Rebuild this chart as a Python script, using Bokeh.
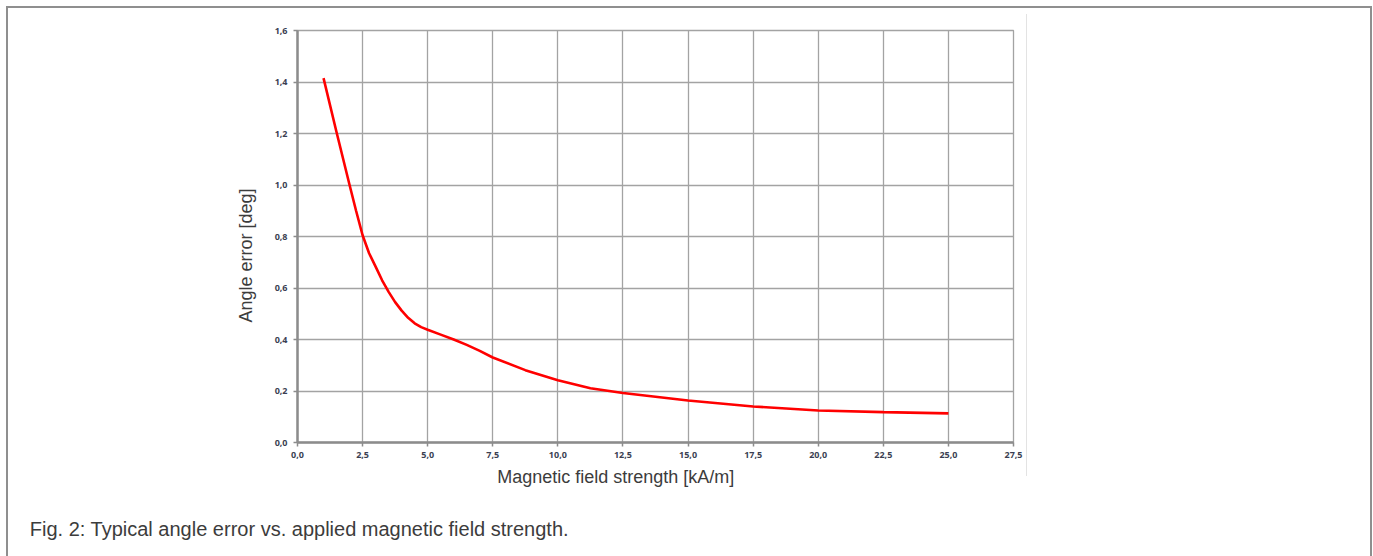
from bokeh.plotting import figure
from bokeh.layouts import column
from bokeh.models import Range1d, FixedTicker, Title
from bokeh.embed import file_html
from bokeh.resources import INLINE

# Data
field_kA_m = [1.0, 1.5, 2.0, 2.25, 2.5, 2.75, 3.0, 3.25, 3.5, 3.75, 4.0, 4.25, 4.5, 4.75, 5.0,
              5.5, 6.0, 6.5, 7.0, 7.5, 8.75, 10.0, 11.25, 12.5, 15.0, 17.5, 20.0, 22.5, 25.0]
angle_err_deg = [1.415, 1.205, 1.0, 0.90, 0.805, 0.735, 0.683, 0.63, 0.585, 0.545, 0.512, 0.484, 0.463, 0.448, 0.438,
                 0.419, 0.400, 0.379, 0.356, 0.330, 0.281, 0.242, 0.211, 0.192, 0.163, 0.140, 0.124, 0.118, 0.113]

x_ticks = [0.0, 2.5, 5.0, 7.5, 10.0, 12.5, 15.0, 17.5, 20.0, 22.5, 25.0, 27.5]
x_tick_labels = ["0,0", "2,5", "5,0", "7,5", "10,0", "12,5", "15,0", "17,5", "20,0", "22,5", "25,0", "27,5"]
y_ticks = [0.0, 0.2, 0.4, 0.6, 0.8, 1.0, 1.2, 1.4, 1.6]
y_tick_labels = ["0,0", "0,2", "0,4", "0,6", "0,8", "1,0", "1,2", "1,4", "1,6"]

x_title = "Magnetic field strength [kA/m]"
y_title = "Angle error [deg]"
caption = "Fig. 2: Typical angle error vs. applied magnetic field strength."

W, H_CHART, H_CAP = 1373, 500, 56

p = figure(width=W, height=H_CHART, output_backend="svg", toolbar_location=None,
           x_range=Range1d(0, 27.5), y_range=Range1d(0, 1.6),
           min_border_left=297, min_border_right=360, min_border_top=30, min_border_bottom=58)
p.background_fill_color = "white"
p.border_fill_color = None
p.outline_line_color = "#a3a3a3"
p.outline_line_width = 1.3

p.line(field_kA_m, angle_err_deg, line_color="#ff0000", line_width=2.6)

grid_col = "#a3a3a3"
axis_col = "#8c8c8c"
tick_col = "#3b3f52"

for ax, ticks, labels in ((p.xaxis[0], x_ticks, x_tick_labels), (p.yaxis[0], y_ticks, y_tick_labels)):
    ax.ticker = FixedTicker(ticks=ticks)
    ax.major_label_overrides = {t: l for t, l in zip(ticks, labels)}
    ax.axis_line_color = axis_col
    ax.axis_line_width = 2.5
    ax.major_tick_line_color = axis_col
    ax.major_tick_line_width = 1.5
    ax.major_tick_out = 4
    ax.major_tick_in = 0
    ax.minor_tick_line_color = None
    ax.major_label_text_font = "Open Sans"
    ax.major_label_text_font_style = "bold"
    ax.major_label_text_font_size = "9px"
    ax.major_label_text_color = tick_col
p.xaxis.major_label_standoff = 5
p.yaxis.major_label_standoff = 6

p.xgrid.ticker = FixedTicker(ticks=x_ticks)
p.ygrid.ticker = FixedTicker(ticks=y_ticks)
p.grid.grid_line_color = grid_col
p.grid.grid_line_width = 1.3

text_col = "#3c3c3c"
p.add_layout(Title(text=x_title, align="left", offset=199.7, standoff=9,
                   text_font="Liberation Sans", text_font_size="18px",
                   text_font_style="normal", text_color=text_col), "below")
p.add_layout(Title(text=y_title, align="left", offset=120, standoff=32,
                   text_font="Liberation Sans", text_font_size="18px",
                   text_font_style="normal", text_color=text_col), "left")

# caption strip below the chart
cap = figure(width=W, height=H_CAP, output_backend="svg", toolbar_location=None,
             x_axis_type=None, y_axis_type=None,
             min_border_left=297, min_border_right=360, min_border_top=0, min_border_bottom=0,
             x_range=Range1d(0, 1), y_range=Range1d(0, 1))
cap.background_fill_color = None
cap.border_fill_color = None
cap.outline_line_color = None
cap.grid.visible = False
cap.add_layout(Title(text=caption, align="left", offset=-267.7, standoff=30,
                     vertical_align="bottom",
                     text_font="Liberation Sans", text_font_size="20px",
                     text_font_style="normal", text_color=text_col), "above")

layout = column(p, cap, spacing=0)

# page frame lines and image edge, drawn as CSS background of the layout element
frame_col = "#8f8f8f"
layout.styles = {
    "background": (
        f"linear-gradient({frame_col},{frame_col}) 6px 6px / 2px 560px no-repeat, "
        f"linear-gradient({frame_col},{frame_col}) 6px 6px / 1366px 2px no-repeat, "
        f"linear-gradient({frame_col},{frame_col}) 1370px 6px / 2px 560px no-repeat, "
        "linear-gradient(#e3e3e3,#e3e3e3) 1026px 14px / 1px 462px no-repeat, white"
    )
}

open("out.html", "w").write(file_html(layout, INLINE))
